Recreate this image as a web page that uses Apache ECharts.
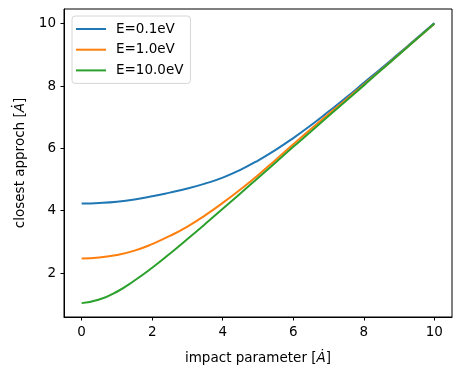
<!DOCTYPE html>
<html>
<head>
<meta charset="utf-8">
<script src="https://cdn.jsdelivr.net/npm/echarts@6/dist/echarts.min.js"></script>
<style>html,body{margin:0;padding:0;background:#fff;}#c{width:461px;height:378px;}</style>
</head>
<body>
<div id="c"></div>
<script>
var impact = [0, 0.5, 1, 1.5, 2, 2.5, 3, 3.5, 4, 4.5, 5, 5.5, 6, 6.5, 7, 7.5, 8, 8.5, 9, 9.5, 10];
var closeE01 = [4.23, 4.25, 4.29, 4.36, 4.46, 4.58, 4.71, 4.87, 5.06, 5.31, 5.61, 5.95, 6.33, 6.74, 7.18, 7.63, 8.10, 8.57, 9.05, 9.53, 10.02];
var closeE1 = [2.47, 2.50, 2.58, 2.72, 2.93, 3.19, 3.49, 3.85, 4.25, 4.68, 5.14, 5.63, 6.13, 6.62, 7.10, 7.57, 8.05, 8.53, 9.02, 9.51, 10.00];
var closeE10 = [1.035, 1.15, 1.40, 1.76, 2.17, 2.62, 3.09, 3.57, 4.06, 4.55, 5.05, 5.55, 6.05, 6.54, 7.04, 7.53, 8.02, 8.52, 9.01, 9.51, 10.00];
var seriesNames = ['E=0.1eV', 'E=1.0eV', 'E=10.0eV'];
var colors = ['#1f77b4', '#ff7f0e', '#2ca02c'];
var xTicks = [0, 2, 4, 6, 8, 10];
var yTicks = [2, 4, 6, 8, 10];

function pairs(xs, ys) { return xs.map(function (x, i) { return [x, ys[i]]; }); }
var FONT = 'DejaVu Sans';
var chart = echarts.init(document.getElementById('c'), null, {renderer: 'canvas'});
var allY = [closeE01, closeE1, closeE10];
chart.setOption({
  animation: false,
  backgroundColor: '#ffffff',
  textStyle: {fontFamily: FONT, color: '#000'},
  grid: {left: 64, top: 9, right: 9, bottom: 61, show: true, borderColor: '#000', borderWidth: 1, containLabel: false},
  legend: {
    orient: 'vertical', left: 72, top: 16,
    padding: [6, 7, 6, 4],
    itemWidth: 30, itemHeight: 2, itemGap: 6.7,
    icon: 'rect',
    borderColor: '#d6d6d6', borderWidth: 1, borderRadius: 3,
    backgroundColor: 'rgba(255,255,255,0.8)',
    textStyle: {fontFamily: FONT, fontSize: 13.5, color: '#000', lineHeight: 14, padding: [0, 0, 0, 5]},
    data: seriesNames
  },
  xAxis: {
    type: 'value', min: -0.5, max: 10.5,
    name: '{n|impact parameter [}{i|Ȧ}{n|]}',
    nameLocation: 'middle', nameGap: 34,
    nameTextStyle: {rich: {n: {fontFamily: FONT, fontSize: 13.5, color: '#000'}, i: {fontFamily: FONT, fontSize: 13.5, fontStyle: 'italic', color: '#000'}}},
    axisLine: {show: true, onZero: false, lineStyle: {color: '#000', width: 1}},
    axisTick: {show: true, length: 3.5, inside: false, customValues: xTicks, lineStyle: {color: '#000', width: 1}},
    axisLabel: {customValues: xTicks, margin: 8, fontFamily: FONT, fontSize: 13.5, color: '#000'},
    splitLine: {show: false}
  },
  yAxis: {
    type: 'value', min: 0.59, max: 10.47,
    name: '{n|closest approch [}{i|Ȧ}{n|]}',
    nameLocation: 'middle', nameGap: 37, nameRotate: 90,
    nameTextStyle: {rich: {n: {fontFamily: FONT, fontSize: 13.5, color: '#000'}, i: {fontFamily: FONT, fontSize: 13.5, fontStyle: 'italic', color: '#000'}}},
    axisLine: {show: true, onZero: false, lineStyle: {color: '#000', width: 1}},
    axisTick: {show: true, length: 3.5, inside: false, customValues: yTicks, lineStyle: {color: '#000', width: 1}},
    axisLabel: {customValues: yTicks, margin: 8, fontFamily: FONT, fontSize: 13.5, color: '#000'},
    splitLine: {show: false}
  },
  series: allY.map(function (ys, k) {
    return {
      name: seriesNames[k], type: 'line', data: pairs(impact, ys),
      showSymbol: false, symbol: 'none', smooth: true,
      color: colors[k],
      lineStyle: {color: colors[k], width: 2}
    };
  })
});
</script>
</body>
</html>
